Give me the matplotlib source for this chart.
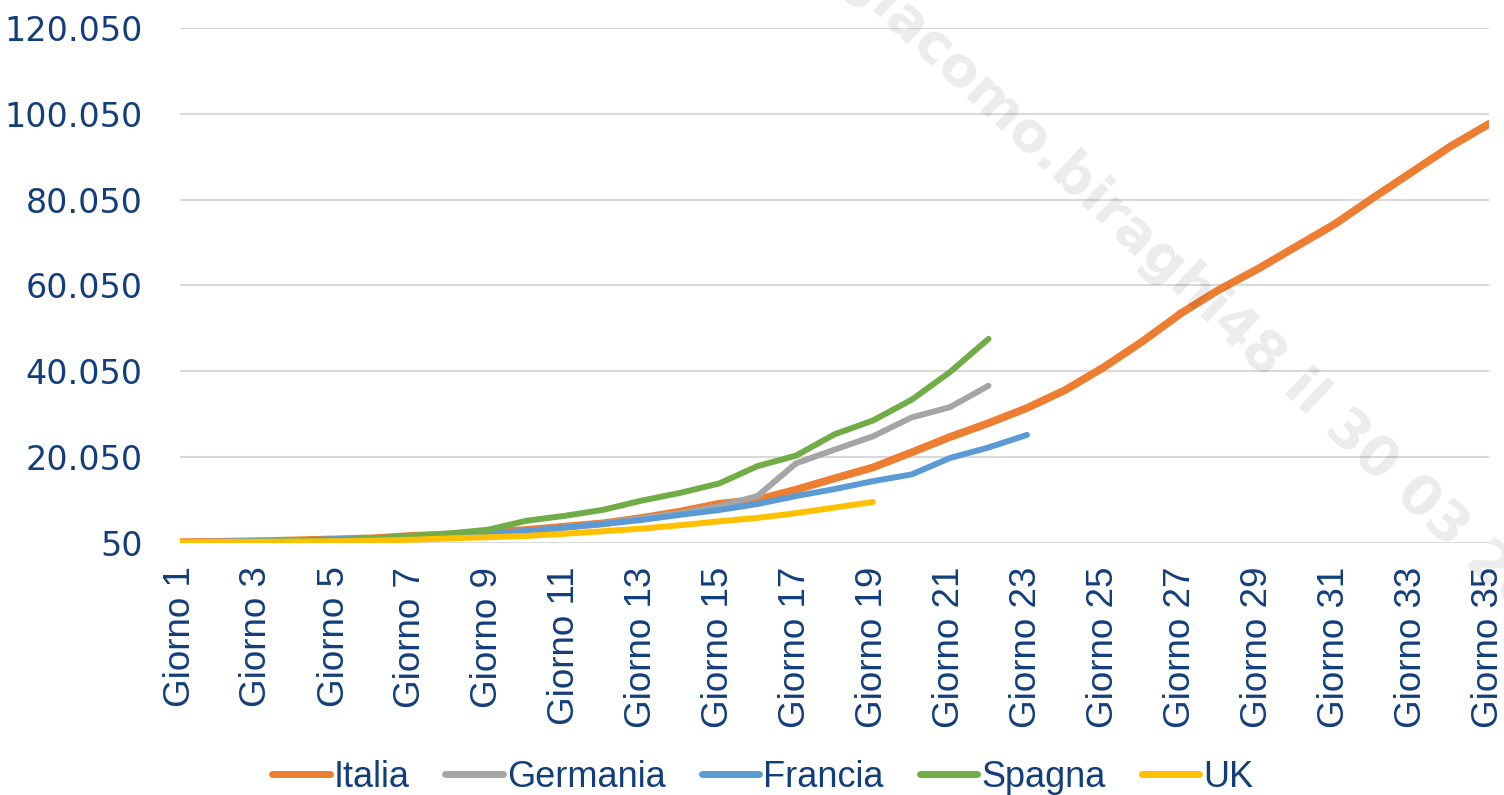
import matplotlib.pyplot as plt
from matplotlib.ticker import FixedLocator

# Total cases by day since start, per country
giorni = list(range(1, 36))

italia = [229, 322, 453, 655, 888, 1128, 1694, 2036, 2502, 3089, 3858, 4636, 5883, 7375, 9172,
          10149, 12462, 15113, 17660, 21157, 24747, 27980, 31506, 35713, 41035, 47021, 53578,
          59138, 63927, 69176, 74386, 80539, 86498, 92472, 97689]
germania = [262, 400, 545, 670, 800, 1040, 1224, 1565, 1966, 2745, 3675, 4599, 5813, 7000, 8600,
            11000, 18600, 21800, 24900, 29300, 31700, 36700]
francia = [212, 285, 423, 653, 949, 1126, 1412, 1784, 2281, 2876, 3661, 4499, 5423, 6633, 7730,
           9134, 10995, 12612, 14459, 16018, 19856, 22302, 25233]
spagna = [222, 259, 400, 500, 673, 1073, 1695, 2277, 3146, 5232, 6391, 7798, 9942, 11748, 13910,
          17963, 20410, 25374, 28603, 33400, 39885, 47610]
uk = [206, 273, 321, 373, 456, 590, 798, 1140, 1391, 1700, 2200, 2800, 3400, 4200, 5100,
      5900, 7000, 8300, 9600]

y_ticks = [50, 20050, 40050, 60050, 80050, 100050, 120050]
y_labels = ["50", "20.050", "40.050", "60.050", "80.050", "100.050", "120.050"]

text_col = "#123e7c"

fig = plt.figure(figsize=(15.04, 7.95), dpi=100)
ax = fig.add_axes([180 / 1504, 1 - 543 / 795, (1489 - 180) / 1504, (543 - 28) / 795])

ax.plot(giorni[:len(italia)], italia, color="#ED7D31", lw=5.6, label="Italia", solid_capstyle="round")
ax.plot(giorni[:len(germania)], germania, color="#A5A5A5", lw=4.3, label="Germania", solid_capstyle="round")
ax.plot(giorni[:len(francia)], francia, color="#5B9BD5", lw=4.3, label="Francia", solid_capstyle="round")
ax.plot(giorni[:len(spagna)], spagna, color="#70AD47", lw=4.3, label="Spagna", solid_capstyle="round")
ax.plot(giorni[:len(uk)], uk, color="#FFC000", lw=4.3, label="UK", solid_capstyle="round")

ax.set_xlim(1, 35)
ax.set_ylim(50, 120050)
ax.yaxis.set_major_locator(FixedLocator(y_ticks))
ax.set_yticklabels(y_labels, family="DejaVu Sans", fontsize=24, color=text_col)
ax.set_xticks(giorni[::2])
ax.set_xticklabels(["Giorno %d" % g for g in giorni[::2]], rotation=90,
                   family="Liberation Sans", fontsize=26.5, color=text_col)
ax.tick_params(length=0)
ax.tick_params(axis="y", pad=27)
ax.tick_params(axis="x", pad=17)
for s in ax.spines.values():
    s.set_visible(False)
ax.grid(axis="y", color="#D9D9D9", lw=1.5)
ax.set_axisbelow(True)

leg = fig.legend(loc="center", bbox_to_anchor=(0.507, 0.022), ncol=5, frameon=False,
                 prop={"family": "Liberation Sans", "size": 26}, handlelength=1.6,
                 handletextpad=0.1, columnspacing=1.0)
for t in leg.get_texts():
    t.set_color(text_col)
for h in leg.get_lines():
    h.set_linewidth(5)

# watermark
fig.text(1219 / 1504, 1 - 313 / 795, "giacomo.biraghi48 il 30 03 2020", rotation=-43,
         rotation_mode="anchor", ha="center", va="center", fontsize=40, fontweight="bold",
         color="black", alpha=0.08, zorder=10)

fig.savefig("out.png", dpi=100)
